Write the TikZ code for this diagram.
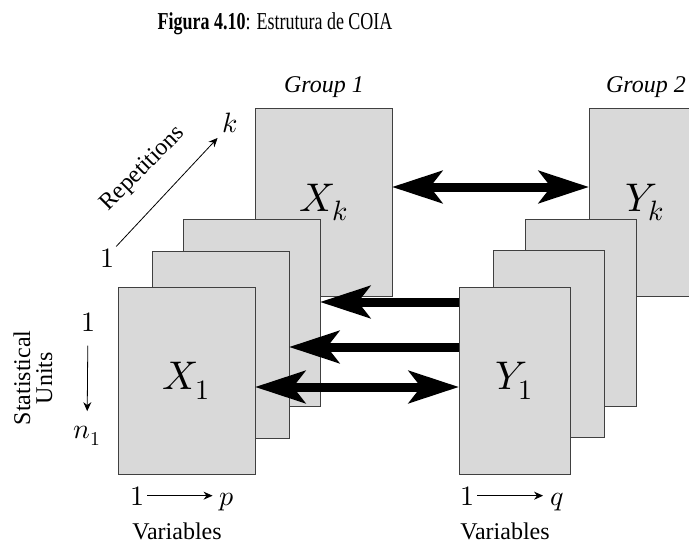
\documentclass[tikz,border=0pt]{standalone}
\usepackage{fontspec}
\usepackage{unicode-math}
\setmainfont{Liberation Serif}
\setmathfont{Latin Modern Math}
\usetikzlibrary{arrows.meta, positioning}
\definecolor{pagefill}{RGB}{217,217,217}
\definecolor{pageedge}{RGB}{64,64,64}

\begin{document}
\begin{tikzpicture}[
    x=1pt, y=-1pt,
    page/.style={rectangle, draw=pageedge, fill=pagefill, line width=1pt, inner sep=0pt, outer sep=0pt, anchor=north west, minimum height=187pt, font=\fontsize{40}{46}\selectfont},
    xpage/.style={page, minimum width=137pt},
    ypage/.style={page, minimum width=111pt},
    idx/.style={font=\fontsize{28}{32}\selectfont, inner sep=2pt},
    caption/.style={font=\fontsize{24}{22}\selectfont, align=center, inner sep=0pt},
    group/.style={font=\itshape\fontsize{24}{28}\selectfont},
    link/.style={{Stealth[length=50pt, width=32pt, inset=12pt]}-, line width=9pt},
    biglink/.style={{Stealth[length=50pt, width=32pt, inset=12pt]}-{Stealth[length=50pt, width=32pt, inset=12pt]}, line width=9pt},
    axis/.style={-{Stealth[length=9pt, width=8pt]}, line width=0.8pt}
]
\useasboundingbox (0,0) rectangle (689,543);
\clip (0,0) rectangle (689,543);

\node[font=\fontsize{18}{22}\selectfont] (title) at (275,24) {\scalebox{1}[1.35]{\textbf{Figura 4.10}: Estrutura de COIA}};

% group 1
\node[xpage] (xk) at (255,109) {$X_k$};
\node[xpage] (xc) at (183,219) {};
\node[xpage] (xb) at (152,251) {};
\node[xpage] (xa) at (118,287) {$X_1$};

% group 2
\node[ypage] (yk) at (589,109) {$Y_k$};
\node[ypage] (yc) at (525,219) {};
\node[ypage] (yb) at (493,250) {};
\node[ypage] (ya) at (459,287) {$Y_1$};

\node[group] (g1) at (324,87) {Group 1};
\node[group] (g2) at (646,87) {Group 2};

\draw[biglink] (xk.east |- 0,187) -- (yk.west |- 0,187);
\draw[link] (xc.east |- 0,302) -- (ya.west |- 0,302);
\draw[link] (xb.east |- 0,347) -- (ya.west |- 0,347);
\draw[biglink] (xa.east |- 0,387) -- (ya.west |- 0,387);

% repetitions
\node[idx] (r1) at (107,258) {$1$};
\node[idx] (rk) at (230,123) {$k$};
\draw[axis, shorten >=4pt] (r1.north east) -- (rk.south west);
\node[caption, rotate=45] (rep) at (143,169) {Repetitions};

% statistical units
\node[idx] (s1) at (88,322) {$1$};
\node[idx] (sn) at (87,436) {$n_1$};
\draw[axis, shorten <=12pt, shorten >=13pt] (s1) -- (sn);
\node[caption, rotate=90] (units) at (33,378) {Statistical\\Units};

% variables
\node[idx, anchor=base] (p1) at (137,505) {$1$};
\node[idx, anchor=base] (pp) at (227,505) {$p$};
\draw[axis, shorten <=1pt, shorten >=5pt] (p1.east) -- (p1.east -| pp.west);
\node[caption] (pvar) at (177,531) {Variables};

\node[idx, anchor=base] (q1) at (467,505) {$1$};
\node[idx, anchor=base] (qq) at (557,505) {$q$};
\draw[axis, shorten <=1pt, shorten >=5pt] (q1.east) -- (q1.east -| qq.west);
\node[caption] (qvar) at (505,531) {Variables};

\end{tikzpicture}
\end{document}
